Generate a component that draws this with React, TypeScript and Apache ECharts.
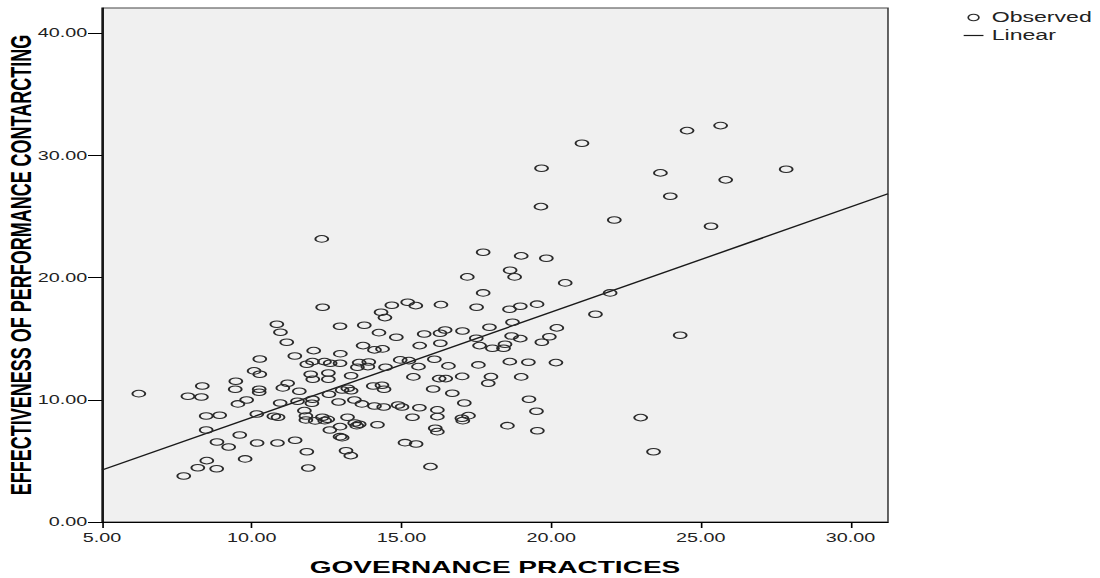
import React, { useEffect, useRef } from "react";
import * as echarts from "echarts";

// GOVERNANCE PRACTICES (x)
const governance = [
  10.84, 10.96, 11.17, 10.27, 10.08, 10.27, 11.04, 9.47, 9.45, 8.35,
  7.87, 8.32, 10.25, 10.25, 6.23, 9.83, 9.54, 10.95, 8.48, 8.93,
  10.17, 10.74, 10.88, 8.48, 9.6, 8.84, 9.23, 10.18, 10.86, 9.78,
  8.5, 8.2, 8.83, 7.73, 14.25, 14.83, 15.76, 16.29, 16.46, 16.3,
  15.61, 13.72, 14.1, 14.37, 12.07, 12.96, 11.44, 11.84, 12.03, 12.43,
  12.62, 12.95, 11.97, 12.56, 12.56, 12.04, 13.32, 13.59, 13.91, 13.53,
  13.88, 14.47, 14.96, 15.25, 15.57, 16.1, 16.57, 15.4, 16.26, 16.48,
  17.03, 11.2, 11.59, 12.58, 13.02, 13.21, 13.32, 14.06, 14.35, 14.42,
  16.06, 16.7, 12.03, 12.01, 11.53, 12.9, 13.43, 13.68, 14.1, 14.41,
  14.89, 15.02, 15.6, 16.2, 17.1, 11.76, 11.81, 11.81, 12.12, 12.36,
  12.44, 12.54, 13.2, 13.44, 13.59, 13.51, 12.95, 12.61, 14.2, 15.37,
  16.2, 16.13, 16.2, 12.95, 13.02, 11.45, 11.84, 13.15, 13.31, 15.12,
  15.49, 11.89, 15.97, 17.04, 17.5, 17.61, 18.04, 18.41, 18.46, 18.68,
  18.97, 19.69, 19.94, 20.19, 17.57, 18.62, 19.24, 20.16, 17.99, 17.9,
  19.0, 19.26, 19.51, 17.02, 17.24, 17.05, 18.54, 19.54, 12.34, 12.37,
  14.68, 15.21, 15.48, 14.32, 14.45, 16.32, 12.95, 13.76, 17.73, 19.0,
  19.84, 17.2, 18.63, 18.78, 20.47, 17.73, 21.97, 17.51, 18.61, 18.97,
  19.53, 21.48, 17.94, 18.71, 21.03, 24.54, 25.66, 19.68, 23.65, 25.83,
  27.85, 23.98, 19.66, 22.11, 25.34, 24.31, 22.99, 23.42,
];

// EFFECTIVENESS OF PERFORMANCE CONTARCTING (y)
const effectiveness = [
  16.18, 15.52, 14.71, 13.34, 12.36, 12.09, 10.97, 11.51, 10.86, 11.13,
  10.29, 10.23, 10.86, 10.61, 10.5, 9.98, 9.66, 9.74, 8.67, 8.73,
  8.84, 8.65, 8.57, 7.53, 7.12, 6.55, 6.14, 6.46, 6.46, 5.16,
  5.02, 4.44, 4.36, 3.76, 15.49, 15.11, 15.38, 15.44, 15.71, 14.62,
  14.43, 14.43, 14.08, 14.16, 14.02, 13.77, 13.58, 12.91, 13.12, 13.12,
  12.99, 12.99, 12.09, 12.19, 11.68, 11.68, 11.97, 13.04, 13.09, 12.66,
  12.71, 12.66, 13.26, 13.2, 12.71, 13.31, 12.77, 11.87, 11.73, 11.73,
  11.91, 11.35, 10.7, 10.45, 10.8, 10.94, 10.74, 11.13, 11.19, 10.86,
  10.88, 10.53, 10.04, 9.71, 9.88, 9.82, 9.98, 9.66, 9.49, 9.41,
  9.57, 9.41, 9.35, 9.17, 9.74, 9.11, 8.67, 8.35, 8.27, 8.57,
  8.29, 8.4, 8.57, 8.1, 8.0, 7.88, 7.8, 7.53, 7.96, 8.57,
  8.62, 7.67, 7.39, 6.98, 6.9, 6.69, 5.75, 5.83, 5.43, 6.49,
  6.38, 4.42, 4.53, 15.63, 15.03, 14.43, 14.21, 14.21, 14.54, 15.22,
  15.0, 14.71, 15.16, 15.88, 12.85, 13.12, 13.07, 13.04, 11.89, 11.35,
  11.87, 10.04, 9.06, 8.49, 8.7, 8.29, 7.88, 7.47, 23.16, 17.57,
  17.73, 17.98, 17.7, 17.16, 16.72, 17.78, 16.01, 16.1, 22.07, 21.77,
  21.58, 20.05, 20.6, 20.05, 19.56, 18.74, 18.74, 17.57, 17.41, 17.65,
  17.82, 17.0, 15.93, 16.34, 30.99, 32.02, 32.43, 28.94, 28.56, 27.99,
  28.86, 26.65, 25.8, 24.71, 24.2, 15.28, 8.54, 5.75,
];

// Fitted linear line, read at the plot's left and right edges
const fitX = [5, 31.25];
const fitY = [4.25, 26.85];

const xTicks = [5, 10, 15, 20, 25, 30];
const yTicks = [0, 10, 20, 30, 40];

const X_MIN = 5;
const X_MAX = 31.25;
const Y_MIN = 0;
const Y_MAX = 42.05;

const STRETCH = 1.649;
const W = 667;
const H = 578;
const FONT = "'Liberation Sans', Arial, Helvetica, sans-serif";

export default function App() {
  const ref = useRef<HTMLDivElement>(null);

  useEffect(() => {
    document.body.style.margin = "0";
    const chart = echarts.init(ref.current!, null, { renderer: "svg", width: W, height: H });
    const ring = "path://M0,5 A5,5 0 1,1 10,5 A5,5 0 1,1 0,5 Z";
    const bar = "path://M0,0 H40 V4 H0 Z";
    chart.setOption({
      animation: false,
      backgroundColor: "#ffffff",
      textStyle: { fontFamily: FONT },
      grid: {
        left: 61.85,
        right: 128.5,
        top: 8,
        bottom: 56,
        outerBoundsMode: "none",
        containLabel: false,
        show: true,
        backgroundColor: "#f0f0f0",
        borderColor: "#444444",
        borderWidth: 1,
      },
      legend: {
        orient: "vertical",
        left: 579.4,
        top: 5.5,
        itemWidth: 12,
        itemHeight: 6.5,
        itemGap: 4,
        selectedMode: false,
        textStyle: { fontSize: 14, color: "#222222", fontFamily: FONT },
        data: [
          {
            name: "Observed",
            icon: ring,
            itemStyle: { color: "rgba(0,0,0,0)", borderColor: "#2a2a2a", borderWidth: 1 },
          },
          {
            name: "Linear",
            icon: bar,
            itemStyle: { color: "#1a1a1a", borderWidth: 0 },
          },
        ],
      },
      xAxis: {
        type: "value",
        min: X_MIN,
        max: X_MAX,
        interval: 5,
        name: "GOVERNANCE PRACTICES",
        nameLocation: "middle",
        nameGap: 37,
        nameMoveOverlap: false,
        nameTextStyle: { fontSize: 17, fontWeight: "bold", color: "#000000", fontFamily: FONT },
        axisLine: { show: true, onZero: false, lineStyle: { color: "#000000", width: 1 } },
        axisTick: { show: true, length: 6, lineStyle: { color: "#000000", width: 1 }, customValues: xTicks },
        axisLabel: {
          fontSize: 12,
          color: "#222222",
          margin: 10,
          fontFamily: FONT,
          customValues: xTicks,
          formatter: (v: number) => v.toFixed(2),
        },
        splitLine: { show: false },
      },
      yAxis: {
        type: "value",
        min: Y_MIN,
        max: Y_MAX,
        interval: 10,
        name: "EFFECTIVENESS OF PERFORMANCE CONTARCTING",
        nameLocation: "middle",
        nameGap: 40,
        nameMoveOverlap: false,
        nameTextStyle: { fontSize: 18, fontWeight: "bold", color: "#000000", fontFamily: FONT },
        axisLine: { show: true, onZero: false, lineStyle: { color: "#000000", width: 1 } },
        axisTick: { show: true, length: 8.5, lineStyle: { color: "#000000", width: 1 }, customValues: yTicks },
        axisLabel: {
          fontSize: 12,
          color: "#222222",
          margin: 9,
          fontFamily: FONT,
          customValues: yTicks,
          formatter: (v: number) => v.toFixed(2),
        },
        splitLine: { show: false },
      },
      series: [
        {
          name: "Observed",
          type: "scatter",
          symbol: ring,
          symbolSize: [7.8, 6.6],
          itemStyle: { color: "rgba(0,0,0,0)", borderColor: "#2a2a2a", borderWidth: 1.1, opacity: 1 },
          data: governance.map((x, i) => [x, effectiveness[i]]),
          z: 3,
        },
        {
          name: "Linear",
          type: "line",
          symbol: "none",
          itemStyle: { color: "#1a1a1a" },
          lineStyle: { color: "#1a1a1a", width: 1.3 },
          data: fitX.map((x, i) => [x, fitY[i]]),
          z: 2,
        },
      ],
    });
    return () => chart.dispose();
  }, []);

  return (
    <div
      ref={ref}
      style={{
        width: W,
        height: H,
        transform: `scaleX(${STRETCH})`,
        transformOrigin: "0 0",
      }}
    />
  );
}
